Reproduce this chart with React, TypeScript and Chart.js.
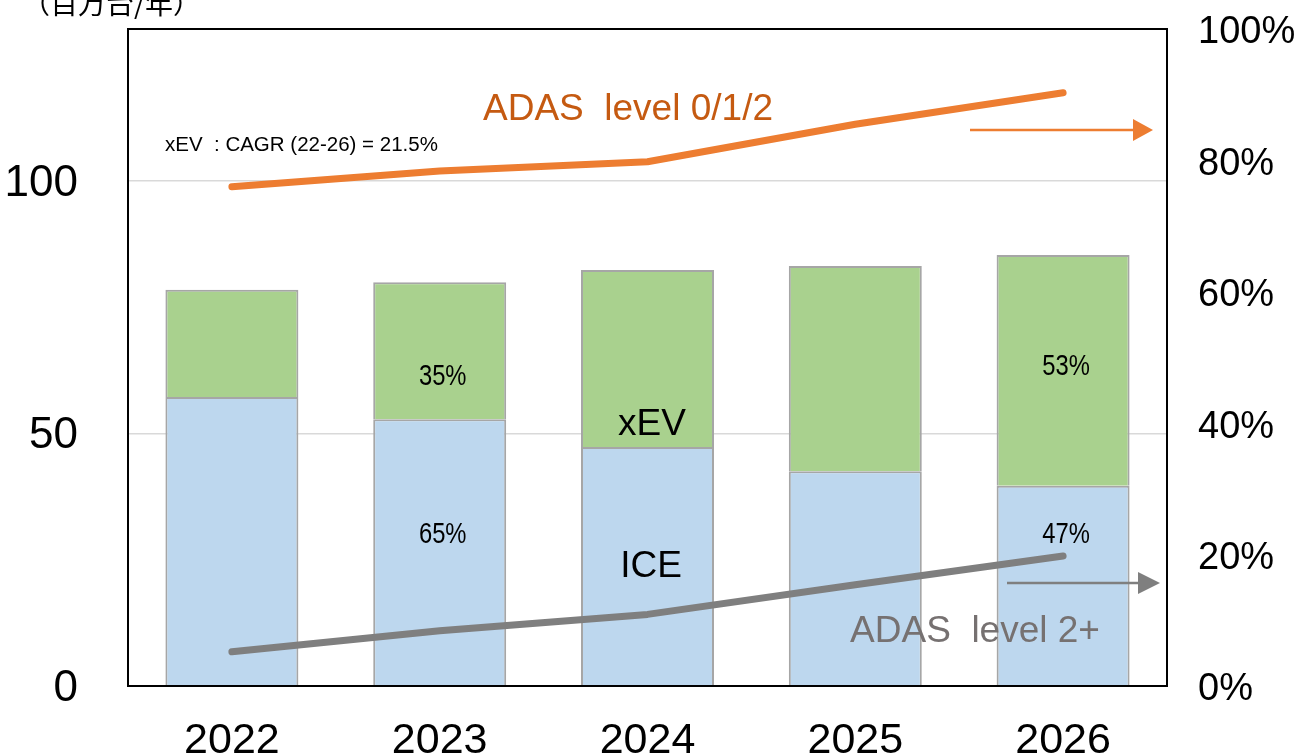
import React, { useEffect, useRef } from 'react';
import { Chart, registerables } from 'chart.js';

Chart.register(...registerables);

const FONT = '"Liberation Sans", Arial, sans-serif';

const years = ['2022', '2023', '2024', '2025', '2026'];
const iceUnits = [57.2, 52.8, 47.3, 42.5, 39.6];
const xevUnits = [21.2, 27.1, 35.0, 40.6, 45.7];
const adas012Share = [76.0, 78.4, 79.8, 85.5, 90.3];
const adas2PlusShare = [5.2, 8.4, 10.9, 15.4, 19.8];
const leftTicks = [0, 50, 100];
const rightTicks = [0, 20, 40, 60, 80, 100];
const xevShareLabels = ['', '35%', '', '', '53%'];
const iceShareLabels = ['', '65%', '', '', '47%'];

function drawText(ctx: any, s: string, x: number, y: number, size: number, color: string, align: string = 'center', sx: number = 1, family: string = FONT) {
  ctx.save();
  ctx.font = `${size}px ${family}`;
  ctx.fillStyle = color;
  ctx.textAlign = align;
  ctx.textBaseline = 'alphabetic';
  ctx.translate(x, y);
  ctx.scale(sx, 1);
  ctx.fillText(s, 0, 0);
  ctx.restore();
}

function drawArrow(ctx: any, x1: number, x2: number, y: number, headLen: number, headHalf: number, color: string, w: number) {
  ctx.save();
  ctx.strokeStyle = color;
  ctx.fillStyle = color;
  ctx.lineWidth = w;
  ctx.beginPath();
  ctx.moveTo(x1, y);
  ctx.lineTo(x2 - headLen + 1, y);
  ctx.stroke();
  ctx.beginPath();
  ctx.moveTo(x2 - headLen, y - headHalf);
  ctx.lineTo(x2, y);
  ctx.lineTo(x2 - headLen, y + headHalf);
  ctx.closePath();
  ctx.fill();
  ctx.restore();
}

const overlay = {
  id: 'overlay',
  afterDatasetsDraw(chart: any) {
    const ctx = chart.ctx;
    const a = chart.chartArea;
    const xs = chart.scales.x;
    ctx.save();
    ctx.strokeStyle = '#000';
    ctx.lineWidth = 2;
    ctx.strokeRect(a.left, a.top, a.right - a.left, a.bottom - a.top);
    ctx.restore();

    drawText(ctx, '（百万台/年）', 22, 14, 28, '#000', 'left', 1, '"Noto Sans CJK JP", sans-serif');

    drawText(ctx, 'ADAS  level 0/1/2', 628, 120, 37, '#C55A11');
    drawText(ctx, 'xEV  : CAGR (22-26) = 21.5%', 165, 151, 20.5, '#000', 'left');
    drawText(ctx, 'xEV', 652, 435, 37, '#000');
    drawText(ctx, 'ICE', 651, 577, 37, '#000');
    drawText(ctx, 'ADAS  level 2+', 975, 642, 37, '#767171');

    const xevY = [0, 385, 0, 0, 375];
    const iceY = [0, 543, 0, 0, 543];
    years.forEach((_, i) => {
      const cx = xs.getPixelForValue(i) + 3;
      if (xevShareLabels[i]) drawText(ctx, xevShareLabels[i], cx, xevY[i], 29, '#000', 'center', 0.82);
      if (iceShareLabels[i]) drawText(ctx, iceShareLabels[i], cx, iceY[i], 29, '#000', 'center', 0.82);
    });

    drawArrow(ctx, 970, 1153, 130, 20, 11, '#ED7D31', 2.5);
    drawArrow(ctx, 1007, 1160, 583, 22, 11, '#7F7F7F', 2.5);
  },
};

export default function App() {
  const ref = useRef<HTMLCanvasElement | null>(null);

  useEffect(() => {
    if (!ref.current) return;
    Chart.defaults.font.family = FONT;
    const chart = new Chart(ref.current, {
      type: 'bar',
      data: {
        labels: years,
        datasets: [
          {
            type: 'line',
            label: 'ADAS level 0/1/2',
            data: adas012Share,
            yAxisID: 'y1',
            borderColor: '#ED7D31',
            backgroundColor: '#ED7D31',
            borderWidth: 7,
            borderCapStyle: 'round',
            borderJoinStyle: 'round',
            pointRadius: 0,
            tension: 0,
            fill: false,
            order: 0,
          } as any,
          {
            type: 'line',
            label: 'ADAS level 2+',
            data: adas2PlusShare,
            yAxisID: 'y1',
            borderColor: '#7F7F7F',
            backgroundColor: '#7F7F7F',
            borderWidth: 7,
            borderCapStyle: 'round',
            borderJoinStyle: 'round',
            pointRadius: 0,
            tension: 0,
            fill: false,
            order: 0,
          } as any,
          {
            type: 'bar',
            label: 'ICE',
            data: iceUnits,
            yAxisID: 'y',
            backgroundColor: '#BDD7EE',
            borderColor: '#A6A6A6',
            borderWidth: 2,
            stack: 's',
            order: 1,
          } as any,
          {
            type: 'bar',
            label: 'xEV',
            data: xevUnits,
            yAxisID: 'y',
            backgroundColor: '#A9D18E',
            borderColor: '#A6A6A6',
            borderWidth: 2,
            stack: 's',
            order: 1,
          } as any,
        ],
      },
      options: {
        responsive: false,
        animation: false,
        layout: { padding: { top: 29, left: 0, right: 0, bottom: 0 } },
        plugins: { legend: { display: false }, tooltip: { enabled: false } },
        datasets: { bar: { categoryPercentage: 1, barPercentage: 0.64 } } as any,
        scales: {
          x: {
            stacked: true,
            offset: true,
            grid: { display: false, drawTicks: false },
            border: { display: false },
            ticks: { color: '#000', font: { size: 43, family: FONT }, padding: 29, maxRotation: 0 },
            afterFit: (s: any) => { s.height = 70; s.paddingLeft = 0; s.paddingRight = 0; },
          },
          y: {
            stacked: true,
            position: 'left',
            min: 0,
            max: 130,
            afterBuildTicks: (s: any) => { s.ticks = leftTicks.map((v) => ({ value: v })); },
            grid: { color: '#D9D9D9', lineWidth: 1.5, drawTicks: false },
            border: { display: false },
            ticks: { color: '#000', font: { size: 44, family: FONT }, padding: 50, labelOffset: 3 },
            afterFit: (s: any) => { s.width = 128; s.paddingTop = 0; s.paddingBottom = 0; },
          },
          y1: {
            stacked: false,
            position: 'right',
            min: 0,
            max: 100,
            afterBuildTicks: (s: any) => { s.ticks = rightTicks.map((v) => ({ value: v })); },
            grid: { display: false, drawTicks: false },
            border: { display: false },
            ticks: { color: '#000', font: { size: 38, family: FONT }, padding: 31, labelOffset: 4, callback: (v: any) => `${v}%` },
            afterFit: (s: any) => { s.width = 130; s.paddingTop = 0; s.paddingBottom = 0; },
          },
        } as any,
      },
      plugins: [overlay],
    } as any);
    return () => chart.destroy();
  }, []);

  return (
    <div style={{ position: 'absolute', left: 0, top: 0, width: 1297, height: 756, background: '#fff' }}>
      <canvas ref={ref} width={1297} height={756} style={{ display: 'block' }} />
    </div>
  );
}
